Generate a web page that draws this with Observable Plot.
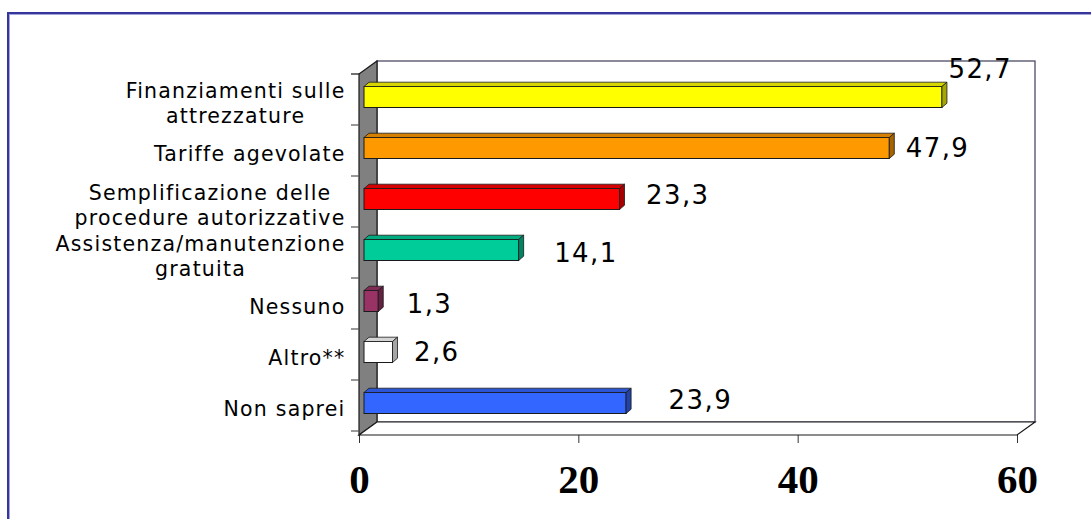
<!DOCTYPE html>
<html>
<head>
<meta charset="utf-8">
<script src="https://cdn.jsdelivr.net/npm/d3@7"></script>
<script src="https://cdn.jsdelivr.net/npm/@observablehq/plot@0.6"></script>
<style>
  html, body { margin: 0; padding: 0; background: #fff; overflow: hidden; }
  #wrap { position: relative; width: 1091px; height: 519px; }
  #frame { position: absolute; left: 7px; top: 12px; width: 2000px; height: 2000px;
           border: 2px solid #35359c; box-shadow: inset 1px 1px 0 #a4a4dc; pointer-events: none; }
  svg g[aria-label="text"] text { letter-spacing: 1.4px; }
  svg g[aria-label="y-axis tick label"] text { letter-spacing: 1.2px; }
</style>
</head>
<body>
<div id="wrap"><div id="chart"></div><div id="frame"></div></div>
<script>
// ---- data ----
const categories = [
  "Finanziamenti sulle\nattrezzature",
  "Tariffe agevolate",
  "Semplificazione delle\nprocedure autorizzative",
  "Assistenza/manutenzione\ngratuita",
  "Nessuno",
  "Altro**",
  "Non saprei"
];
const values = [52.7, 47.9, 23.3, 14.1, 1.3, 2.6, 23.9];
const valueLabels = ["52,7", "47,9", "23,3", "14,1", "1,3", "2,6", "23,9"];
const xTicks = [0, 20, 40, 60];

// ---- styles ----
const barFill = ["#ffff00", "#ff9900", "#ff0000", "#00cc99", "#993366", "#ffffff", "#3366ff"];
const labelNudge = [[11, -32], [21, -4], [31, -8], [40, -1], [33, -1], [26, -4], [47, -7]];
const WALL = [18, -13];     // depth of the 3D box
const BAR0 = [5, -4.5];     // bar front-face offset
const BARD = [5, -4.3];     // bar thickness in depth

const data = categories.map((c, i) => ({cat: c, value: values[i], label: valueLabels[i], color: barFill[i]}));

const plot = Plot.plot({
  width: 1091, height: 519,
  marginLeft: 359, marginRight: 74, marginTop: 74, marginBottom: 84,
  style: {background: "transparent", fontFamily: "DejaVu Sans", color: "#000"},
  x: {domain: [0, 60]},
  y: {domain: categories, paddingInner: 0.593, paddingOuter: 0.2965},
  color: {type: "identity"},
  marks: [
    Plot.axisX({ticks: xTicks, tickSize: 8, tickPadding: 20, fontSize: 41, fontWeight: "bold",
                fontFamily: "Liberation Serif", stroke: "#333", label: null, tickFormat: d => String(d)}),
    Plot.axisY({tickSize: 0, tickPadding: 14, fontSize: 20.5, lineHeight: 1.22, label: null}),
    Plot.barX(data, {x: "value", y: "cat", fill: "color", stroke: "#1a1a1a", strokeWidth: 1,
                     dx: BAR0[0], dy: BAR0[1]}),
    ...data.map((d, i) => Plot.text([d], {x: "value", y: "cat", text: "label", textAnchor: "start",
                     dx: labelNudge[i][0], dy: labelNudge[i][1], fontSize: 26, fill: "#000"}))
  ]
});
document.getElementById("chart").appendChild(plot);

// ---- 3D decorations from Plot's own scales ----
const X = plot.scale("x"), Y = plot.scale("y");
const xs = v => X.apply(v);
const yTop = Y.range[0], yBot = Y.range[1];
const svg = d3.select(plot);
const pts = a => a.map(p => p.join(",")).join(" ");

const barsNode = plot.querySelector('g[aria-label="bar"]');
const walls = document.createElementNS("http://www.w3.org/2000/svg", "g");
plot.insertBefore(walls, barsNode);
const W = d3.select(walls);
const x0 = xs(X.domain[0]), x1 = xs(X.domain[1]);
// back wall
W.append("rect").attr("x", x0 + WALL[0]).attr("y", yTop + WALL[1])
  .attr("width", x1 - x0).attr("height", yBot - yTop)
  .attr("fill", "#fff").attr("stroke", "#3c3c58").attr("stroke-width", 1.2);
// side wall
W.append("polygon").attr("points", pts([[x0, yTop], [x0 + WALL[0], yTop + WALL[1]], [x0 + WALL[0], yBot + WALL[1]], [x0, yBot]]))
  .attr("fill", "#808080").attr("stroke", "#1a1a1a").attr("stroke-width", 1.2);
// floor
W.append("polygon").attr("points", pts([[x0, yBot], [x0 + WALL[0], yBot + WALL[1]], [x1 + WALL[0], yBot + WALL[1]], [x1, yBot]]))
  .attr("fill", "#fff").attr("stroke", "#1a1a1a").attr("stroke-width", 1.2);
// category tick marks between bands
const nb = Y.domain.length;
for (let i = 0; i <= nb; i++) {
  const y = yTop + i * Y.step;
  W.append("line").attr("x1", x0 - 8).attr("x2", x0).attr("y1", y).attr("y2", y)
    .attr("stroke", i === 0 ? "#111" : "#555").attr("stroke-width", 1.2);
}

// bar top and side faces
const faces = svg.append("g");
data.forEach((d, i) => {
  const c = d3.color(d.color);
  const top = c.darker(0.5).formatHex();
  const side = c.darker(1.2).formatHex();
  const xa = xs(0) + BAR0[0], xb = xs(d.value) + BAR0[0];
  const yf = Y.apply(d.cat) + BAR0[1], bw = Y.bandwidth;
  faces.append("polygon").attr("points", pts([[xa, yf], [xa + BARD[0], yf + BARD[1]], [xb + BARD[0], yf + BARD[1]], [xb, yf]]))
    .attr("fill", top).attr("stroke", "#1a1a1a").attr("stroke-width", 0.8);
  faces.append("polygon").attr("points", pts([[xb, yf], [xb + BARD[0], yf + BARD[1]], [xb + BARD[0], yf + bw + BARD[1]], [xb, yf + bw]]))
    .attr("fill", side).attr("stroke", "#1a1a1a").attr("stroke-width", 0.8);
});

// center multi-line category labels like the original
plot.querySelectorAll('g[aria-label="y-axis tick label"] text').forEach(t => {
  if (t.querySelectorAll("tspan").length > 1) {
    const w = t.getBBox().width;
    t.setAttribute("text-anchor", "middle");
    const tr = t.getAttribute("transform") || "";
    t.setAttribute("transform", tr + ` translate(${-w / 2},0)`);
  }
});
</script>
</body>
</html>
